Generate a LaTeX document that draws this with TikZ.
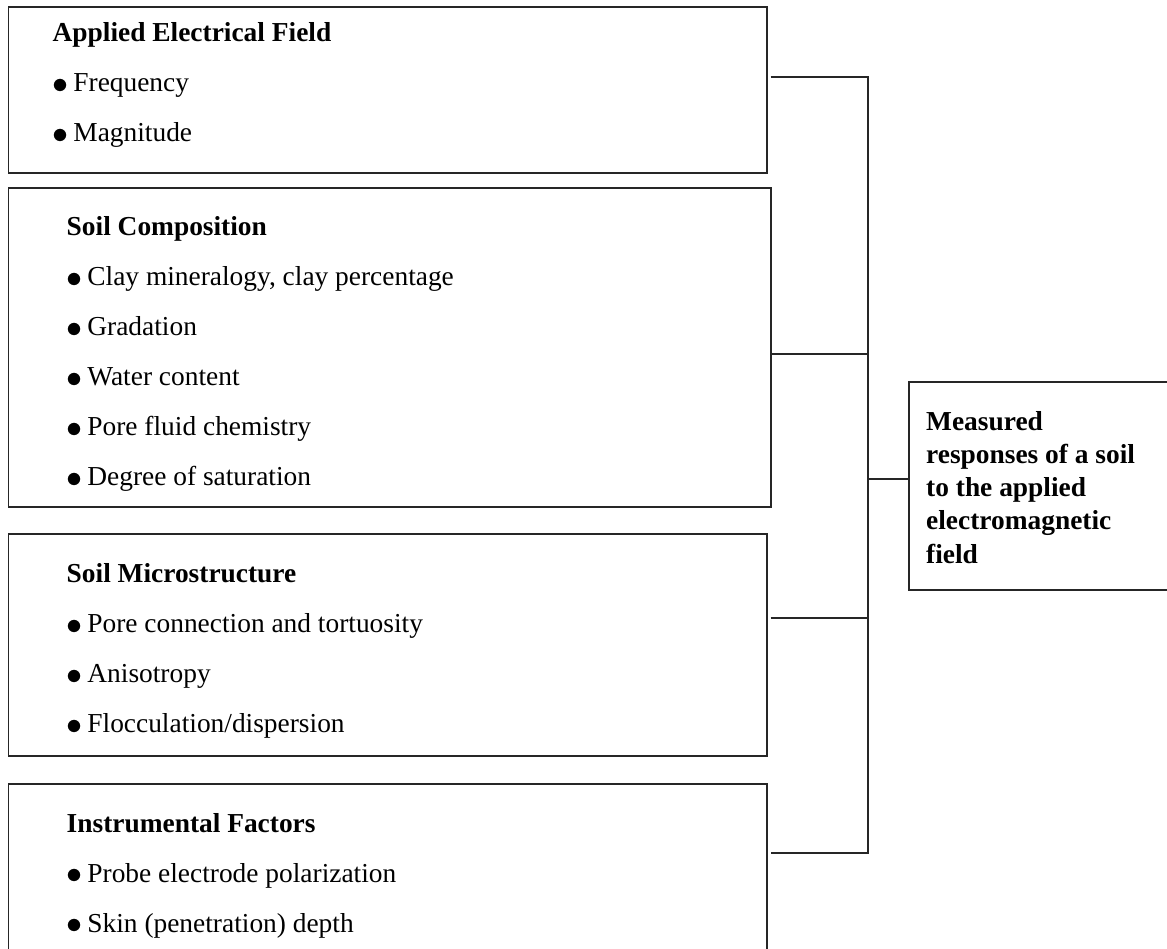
\documentclass[tikz,border=0pt]{standalone}
\usepackage{graphicx}
\usepackage{fontspec}
\setmainfont{Liberation Serif}

% round bullet in front of each factor
\newcommand{\bul}{\raisebox{-0.05em}{\scalebox{1.29}{$\bullet$}}\hspace{0.17em}}

\begin{document}
\begin{tikzpicture}[x=1pt,y=-1pt,
    box/.style={draw=black!85, line width=1.8pt, rectangle, anchor=north west, inner sep=0pt, outer sep=0pt},
    items/.style={anchor=base west, inner sep=0pt, font=\fontsize{27.4}{50}\selectfont},
    result/.style={anchor=base west, inner sep=0pt, font=\fontsize{27.4}{33.3}\selectfont\bfseries},
    link/.style={draw=black!85, line width=1.8pt}]

    \useasboundingbox (0,0) rectangle (1167,949);

    % factor boxes
    \node[box, minimum width=758.5pt, minimum height=166pt] (field) at (8.5,7) {};
    \node[box, minimum width=762.2pt, minimum height=319pt] (comp) at (8.5,187.7) {};
    \node[box, minimum width=758.5pt, minimum height=222pt] (micro) at (8.5,534) {};
    \node[box, minimum width=758.5pt, minimum height=180pt] (instr) at (8.5,784) {};
    \node[box, minimum width=265pt, minimum height=208.3pt] (resp) at (909,381.7) {};

    % texts
    \node[items] (fieldtxt) at (52.5,42) {\begin{tabular}[t]{@{}l@{}}
        \textbf{Applied Electrical Field}\\
        \bul Frequency\\
        \bul Magnitude\end{tabular}};
    \node[items] (comptxt) at (66.5,236) {\begin{tabular}[t]{@{}l@{}}
        \textbf{Soil Composition}\\
        \bul Clay mineralogy, clay percentage\\
        \bul Gradation\\
        \bul Water content\\
        \bul Pore fluid chemistry\\
        \bul Degree of saturation\end{tabular}};
    \node[items] (microtxt) at (66.5,582.7) {\begin{tabular}[t]{@{}l@{}}
        \textbf{Soil Microstructure}\\
        \bul Pore connection and tortuosity\\
        \bul Anisotropy\\
        \bul Flocculation/dispersion\end{tabular}};
    \node[items] (instrtxt) at (66.5,832) {\begin{tabular}[t]{@{}l@{}}
        \textbf{Instrumental Factors}\\
        \bul Probe electrode polarization\\
        \bul Skin (penetration) depth\end{tabular}};
    \node[result] (resptxt) at (926,430) {\begin{tabular}[t]{@{}l@{}}
        Measured\\
        responses of a soil\\
        to the applied\\
        electromagnetic\\
        field\end{tabular}};

    % bus joints
    \coordinate (j1) at (868,76.7);
    \coordinate (j2) at (868,354);
    \coordinate (jr) at (868,479);
    \coordinate (j3) at (868,618);
    \coordinate (j4) at (868,853);

    \draw[link] ([xshift=3.7pt]field.east |- j1) -- (j1) -- (j4) -- ([xshift=3.7pt]instr.east |- j4);
    \draw[link] (comp.east |- j2) -- (j2);
    \draw[link] ([xshift=3.7pt]micro.east |- j3) -- (j3);
    \draw[link] (jr) -- (resp.west |- jr);
\end{tikzpicture}
\end{document}
